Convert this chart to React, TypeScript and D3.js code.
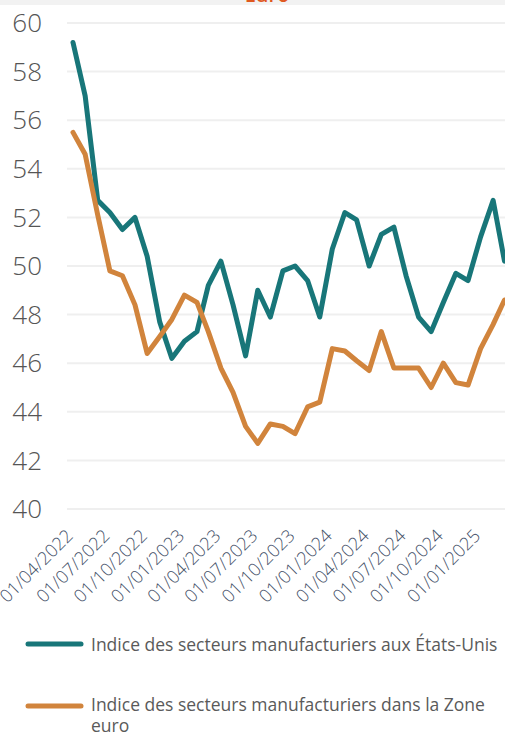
import * as d3 from 'd3'

const months = [
  '2022-04', '2022-05', '2022-06', '2022-07', '2022-08', '2022-09',
  '2022-10', '2022-11', '2022-12', '2023-01', '2023-02', '2023-03',
  '2023-04', '2023-05', '2023-06', '2023-07', '2023-08', '2023-09',
  '2023-10', '2023-11', '2023-12', '2024-01', '2024-02', '2024-03',
  '2024-04', '2024-05', '2024-06', '2024-07', '2024-08', '2024-09',
  '2024-10', '2024-11', '2024-12', '2025-01', '2025-02', '2025-03',
]

// Indice des secteurs manufacturiers aux États-Unis
const usIndex = [
  59.2, 57.0, 52.7, 52.2, 51.5, 52.0, 50.4, 47.7, 46.2, 46.9, 47.3, 49.2,
  50.2, 48.4, 46.3, 49.0, 47.9, 49.8, 50.0, 49.4, 47.9, 50.7, 52.2, 51.9,
  50.0, 51.3, 51.6, 49.6, 47.9, 47.3, 48.5, 49.7, 49.4, 51.2, 52.7, 50.2,
]

// Indice des secteurs manufacturiers dans la Zone euro
const ezIndex = [
  55.5, 54.6, 52.1, 49.8, 49.6, 48.4, 46.4, 47.1, 47.8, 48.8, 48.5, 47.3,
  45.8, 44.8, 43.4, 42.7, 43.5, 43.4, 43.1, 44.2, 44.4, 46.6, 46.5, 46.1,
  45.7, 47.3, 45.8, 45.8, 45.8, 45.0, 46.0, 45.2, 45.1, 46.6, 47.6, 48.6,
]

const tickMonths = [
  '2022-04', '2022-07', '2022-10', '2023-01', '2023-04', '2023-07',
  '2023-10', '2024-01', '2024-04', '2024-07', '2024-10', '2025-01',
]
const yTicks = [40, 42, 44, 46, 48, 50, 52, 54, 56, 58, 60]

const seriesNames = [
  'Indice des secteurs manufacturiers aux États-Unis',
  'Indice des secteurs manufacturiers dans la Zone euro',
]
const colors = ['#187679', '#d1843c']

const width = 505
const height = 736
const parse = d3.timeParse('%Y-%m')
const fmt = d3.timeFormat('%d/%m/%Y')

export default function App() {
  const dates = months.map((m) => parse(m) as Date)
  const x = d3.scaleTime(d3.extent(dates) as [Date, Date], [73, 504.5])
  const y = d3.scaleLinear([40, 60], [509, 23])
  const line = d3
    .line<number>()
    .x((_, i) => x(dates[i]))
    .y((d) => y(d))

  const font = '"Open Sans", "Noto Sans", sans-serif'

  return (
    <div style={{ position: 'absolute', left: 0, top: 0 }}>
      <svg width={width} height={height} style={{ display: 'block', background: '#fff' }}>
        {/* bit of the title band above, cut off */}
        <rect x={0} y={0} width={width} height={5} fill="#f2f2f2" />
        <text
          x={267}
          y={2}
          textAnchor="middle"
          fill="#e0591f"
          fontFamily={font}
          fontWeight={600}
          fontSize={20}
        >
          Euro
        </text>

        {/* grid + y labels */}
        <g>
          {yTicks.map((t) => (
            <g key={t}>
              <line x1={67} x2={width} y1={y(t)} y2={y(t)} stroke="#efefef" strokeWidth={2} />
              <text
                x={42}
                y={y(t)}
                dy="0.35em"
                textAnchor="end"
                fill="#555"
                fontFamily={font}
                fontWeight={300}
                fontSize={26}
              >
                {t}
              </text>
            </g>
          ))}
        </g>

        {/* x labels */}
        <g>
          {tickMonths.map((m) => {
            const tx = x(parse(m) as Date) + 1
            return (
              <text
                key={m}
                transform={`translate(${tx},537) rotate(-45)`}
                textAnchor="end"
                fill="#445068"
                fontFamily={font}
                fontWeight={300}
                fontSize={18}
              >
                {fmt(parse(m) as Date)}
              </text>
            )
          })}
        </g>

        {/* series */}
        {[usIndex, ezIndex].map((s, k) => (
          <path
            key={k}
            d={line(s) ?? undefined}
            fill="none"
            stroke={colors[k]}
            strokeWidth={5}
            strokeLinejoin="round"
            strokeLinecap="round"
          />
        ))}

        {/* legend */}
        <g fontFamily={font} fontSize={17.5} fill="#5a5a5a">
          <line x1={28} x2={81} y1={644} y2={644} stroke={colors[0]} strokeWidth={5} strokeLinecap="round" />
          <text x={91} y={651}>{seriesNames[0]}</text>
          <line x1={28} x2={81} y1={706} y2={706} stroke={colors[1]} strokeWidth={5} strokeLinecap="round" />
          <text x={91} y={711}>
            Indice des secteurs manufacturiers dans la Zone
          </text>
          <text x={91} y={731.5}>euro</text>
        </g>
      </svg>
    </div>
  )
}
